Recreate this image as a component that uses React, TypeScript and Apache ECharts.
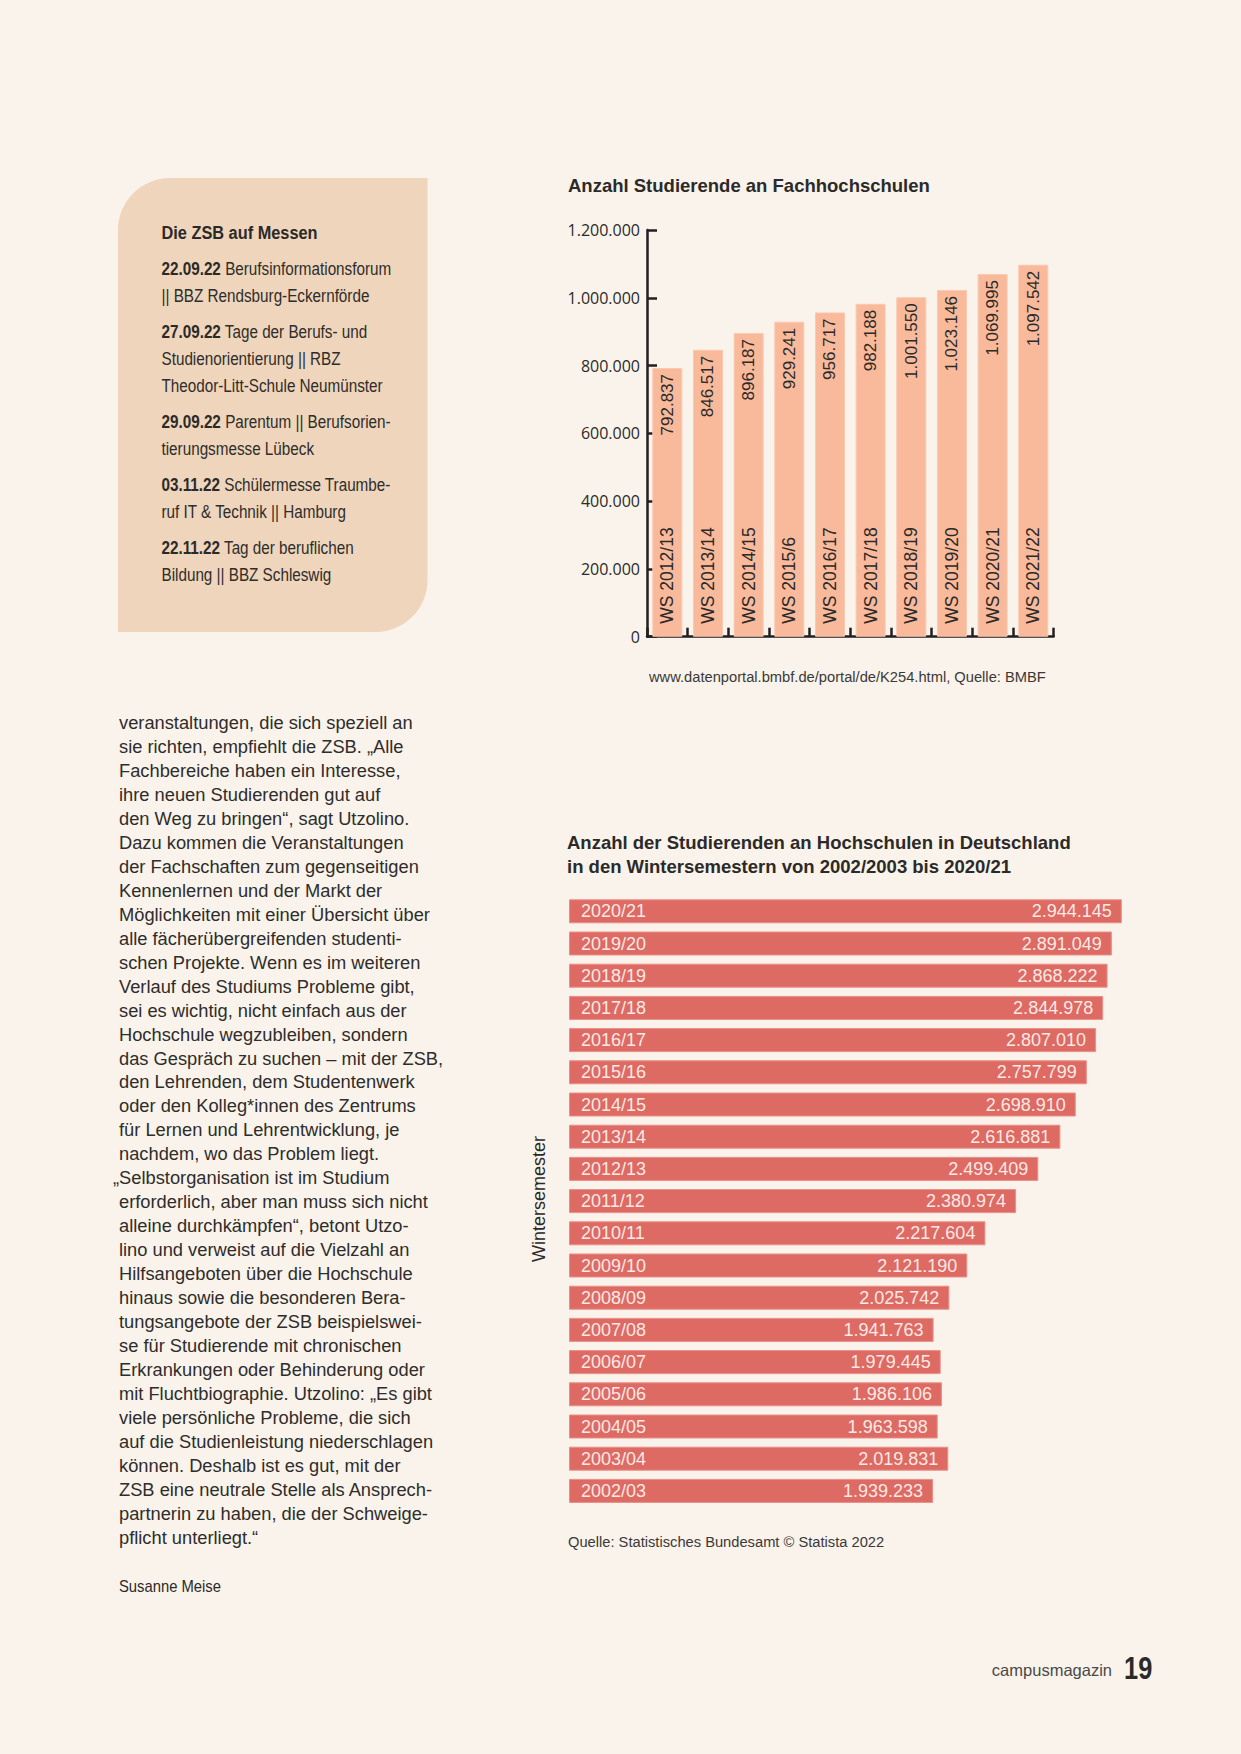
import React, { useEffect, useRef } from "react";
import * as echarts from "echarts";

// ---------- data ----------
const fhTitle = "Anzahl Studierende an Fachhochschulen";
const fhCategories = [
  "WS 2012/13", "WS 2013/14", "WS 2014/15", "WS 2015/6", "WS 2016/17",
  "WS 2017/18", "WS 2018/19", "WS 2019/20", "WS 2020/21", "WS 2021/22",
];
const fhValues = [792837, 846517, 896187, 929241, 956717, 982188, 1001550, 1023146, 1069995, 1097542];
const fhYMin = 0;
const fhYMax = 1200000;
const fhYInterval = 200000;
const fhSource = "www.datenportal.bmbf.de/portal/de/K254.html, Quelle: BMBF";

const hsTitle1 = "Anzahl der Studierenden an Hochschulen in Deutschland";
const hsTitle2 = "in den Wintersemestern von 2002/2003 bis 2020/21";
const hsCategories = [
  "2020/21", "2019/20", "2018/19", "2017/18", "2016/17", "2015/16", "2014/15",
  "2013/14", "2012/13", "2011/12", "2010/11", "2009/10", "2008/09", "2007/08",
  "2006/07", "2005/06", "2004/05", "2003/04", "2002/03",
];
const hsValues = [
  2944145, 2891049, 2868222, 2844978, 2807010, 2757799, 2698910, 2616881, 2499409,
  2380974, 2217604, 2121190, 2025742, 1941763, 1979445, 1986106, 1963598, 2019831, 1939233,
];
const hsXMax = 3000000;
const hsAxisName = "Wintersemester";
const hsSource = "Quelle: Statistisches Bundesamt © Statista 2022";

const boxHeading = "Die ZSB auf Messen";
const boxLines: string[][] = [
  ["{b|22.09.22} Berufsinformationsforum", "|| BBZ Rendsburg-Eckernförde"],
  ["{b|27.09.22} Tage der Berufs- und", "Studienorientierung || RBZ", "Theodor-Litt-Schule Neumünster"],
  ["{b|29.09.22} Parentum || Berufsorien-", "tierungsmesse Lübeck"],
  ["{b|03.11.22} Schülermesse Traumbe-", "ruf IT & Technik || Hamburg"],
  ["{b|22.11.22} Tag der beruflichen", "Bildung || BBZ Schleswig"],
];

const bodyLines = [
  "veranstaltungen, die sich speziell an",
  "sie richten, empfiehlt die ZSB. „Alle",
  "Fachbereiche haben ein Interesse,",
  "ihre neuen Studierenden gut auf",
  "den Weg zu bringen“, sagt Utzolino.",
  "Dazu kommen die Veranstaltungen",
  "der Fachschaften zum gegenseitigen",
  "Kennenlernen und der Markt der",
  "Möglichkeiten mit einer Übersicht über",
  "alle fächerübergreifenden studenti-",
  "schen Projekte. Wenn es im weiteren",
  "Verlauf des Studiums Probleme gibt,",
  "sei es wichtig, nicht einfach aus der",
  "Hochschule wegzubleiben, sondern",
  "das Gespräch zu suchen – mit der ZSB,",
  "den Lehrenden, dem Studentenwerk",
  "oder den Kolleg*innen des Zentrums",
  "für Lernen und Lehrentwicklung, je",
  "nachdem, wo das Problem liegt.",
  "„Selbstorganisation ist im Studium",
  "erforderlich, aber man muss sich nicht",
  "alleine durchkämpfen“, betont Utzo-",
  "lino und verweist auf die Vielzahl an",
  "Hilfsangeboten über die Hochschule",
  "hinaus sowie die besonderen Bera-",
  "tungsangebote der ZSB beispielswei-",
  "se für Studierende mit chronischen",
  "Erkrankungen oder Behinderung oder",
  "mit Fluchtbiographie. Utzolino: „Es gibt",
  "viele persönliche Probleme, die sich",
  "auf die Studienleistung niederschlagen",
  "können. Deshalb ist es gut, mit der",
  "ZSB eine neutrale Stelle als Ansprech-",
  "partnerin zu haben, die der Schweige-",
  "pflicht unterliegt.“",
];
const author = "Susanne Meise";
const footerMag = "campusmagazin";
const footerPage = "19";

// ---------- styles ----------
const BG = "#FAF3EB";
const INK = "#2B2A29";
const SANS = "'Liberation Sans', Arial, Helvetica, sans-serif";
const AXISFONT = "'Open Sans', 'Noto Sans', sans-serif";

const fmt = (v: number) => String(Math.round(v)).replace(/\B(?=(\d{3})+(?!\d))/g, ".");

function txt(x: number, y: number, text: string, style: any = {}, extra: any = {}) {
  return {
    type: "text",
    x,
    y,
    ...extra,
    style: {
      text,
      fill: INK,
      fontFamily: SANS,
      fontSize: 18,
      align: "left",
      verticalAlign: "middle",
      textAlign: "left",
      textVerticalAlign: "middle",
      ...style,
    },
  };
}

function buildGraphics() {
  const g: any[] = [];
  // side box
  g.push({
    type: "rect",
    shape: { x: 118, y: 178, width: 309.5, height: 454, r: [52, 0, 52, 0] },
    style: { fill: "#EED5BB" },
    z: -1,
  });
  g.push(txt(161.5, 233, boxHeading, { fontWeight: "bold", fontSize: 19 }, { scaleX: 0.86 }));
  const starts = [269, 332, 422, 485, 548];
  boxLines.forEach((lines, i) => {
    lines.forEach((line, j) => {
      g.push(
        txt(
          161.5,
          starts[i] + j * 27,
          line,
          {
            fontSize: 18.5,
            fill: "#2E2D2C",
            rich: { b: { fontFamily: SANS, fontSize: 18.5, fontWeight: "bold", fill: INK } },
          },
          { scaleX: 0.825 }
        )
      );
    });
  });
  // body text
  bodyLines.forEach((line, i) => {
    const hang = line.startsWith("„") ? -6 : 0;
    g.push(txt(119 + hang, 722.7 + i * 23.95, line, { fontSize: 18.3, fill: "#2E2D2C" }));
  });
  g.push(txt(119, 1586, author, { fontSize: 17 }, { scaleX: 0.87 }));
  // chart titles and sources
  g.push(txt(568, 185, fhTitle, { fontWeight: "bold", fontSize: 18.5 }));
  g.push(txt(649, 677, fhSource, { fontSize: 14.7, fill: "#3A3938" }));
  g.push(txt(567, 842, hsTitle1, { fontWeight: "bold", fontSize: 18.5 }));
  g.push(txt(567, 866, hsTitle2, { fontWeight: "bold", fontSize: 18.5 }));
  g.push(txt(568, 1542, hsSource, { fontSize: 14.7, fill: "#3A3938" }));
  g.push(
    txt(539, 1199, hsAxisName, { fontSize: 18, align: "center", textAlign: "center" }, { rotation: Math.PI / 2 })
  );
  // footer
  g.push(txt(1112, 1670, footerMag, { fontSize: 16.5, fill: "#4A4948", align: "right", textAlign: "right" }));
  g.push(txt(1124, 1668, footerPage, { fontWeight: "bold", fontSize: 31 }, { scaleX: 0.82 }));
  return g;
}

export default function App() {
  const ref = useRef<HTMLDivElement>(null);
  useEffect(() => {
    if (!ref.current) return;
    const chart = echarts.init(ref.current, undefined, { renderer: "svg", width: 1241, height: 1754 });
    const axisInk = "#231F20";
    chart.setOption({
      animation: false,
      backgroundColor: BG,
      grid: [
        { left: 647, top: 230, width: 406.6, height: 406.7, outerBoundsMode: "none" },
        { left: 569, top: 895.2, width: 563.3, height: 611.8, outerBoundsMode: "none" },
      ],
      xAxis: [
        {
          type: "category",
          gridIndex: 0,
          data: fhCategories,
          axisLine: { show: true, lineStyle: { color: axisInk, width: 2.5 } },
          axisTick: { show: true, inside: true, length: 9, interval: 0, lineStyle: { color: axisInk, width: 2.5 } },
          axisLabel: { show: false },
          splitLine: { show: false },
        },
        { type: "value", gridIndex: 1, min: 0, max: hsXMax, show: false },
      ],
      yAxis: [
        {
          type: "value",
          gridIndex: 0,
          min: fhYMin,
          max: fhYMax,
          interval: fhYInterval,
          axisLine: { show: true, lineStyle: { color: axisInk, width: 2.5 } },
          axisTick: { show: true, inside: true, length: 10, lineStyle: { color: axisInk, width: 2.5 } },
          axisLabel: {
            formatter: (v: number) => fmt(v),
            margin: 7,
            fontFamily: AXISFONT,
            fontSize: 16,
            color: INK,
          },
          splitLine: { show: false },
        },
        {
          type: "category",
          gridIndex: 1,
          data: hsCategories,
          inverse: true,
          z: 10,
          axisLine: { show: false },
          axisTick: { show: false },
          axisLabel: { inside: true, margin: 12, fontFamily: SANS, fontSize: 18, color: "#FCE9E4" },
        },
      ],
      series: [
        {
          type: "bar",
          xAxisIndex: 0,
          yAxisIndex: 0,
          data: fhValues,
          barWidth: 30,
          itemStyle: { color: "#F9B99B", borderColor: "#FBC9AF", borderWidth: 1 },
          label: {
            show: true,
            position: "insideTop",
            distance: 6,
            rotate: 90,
            align: "right",
            verticalAlign: "middle",
            formatter: (p: any) => fmt(p.value),
            fontFamily: SANS,
            fontSize: 17,
            color: INK,
          },
        },
        {
          type: "bar",
          xAxisIndex: 0,
          yAxisIndex: 0,
          data: fhValues,
          barWidth: 30,
          barGap: "-100%",
          silent: true,
          itemStyle: { color: "rgba(0,0,0,0)" },
          label: {
            show: true,
            position: "insideBottom",
            distance: 13,
            rotate: 90,
            align: "left",
            verticalAlign: "middle",
            formatter: (p: any) => fhCategories[p.dataIndex],
            fontFamily: SANS,
            fontSize: 17.5,
            color: INK,
          },
        },
        {
          type: "bar",
          xAxisIndex: 1,
          yAxisIndex: 1,
          data: hsValues,
          barWidth: 24,
          itemStyle: { color: "#DE6A64", borderColor: "#E98F88", borderWidth: 1 },
          label: {
            show: true,
            position: "insideRight",
            distance: 10,
            formatter: (p: any) => fmt(p.value),
            fontFamily: SANS,
            fontSize: 18,
            color: "#FCE9E4",
          },
        },
      ],
      graphic: { elements: buildGraphics() },
    });
    return () => chart.dispose();
  }, []);
  return (
    <div
      ref={ref}
      style={{ position: "absolute", left: 0, top: 0, width: 1241, height: 1754, background: BG }}
    />
  );
}
